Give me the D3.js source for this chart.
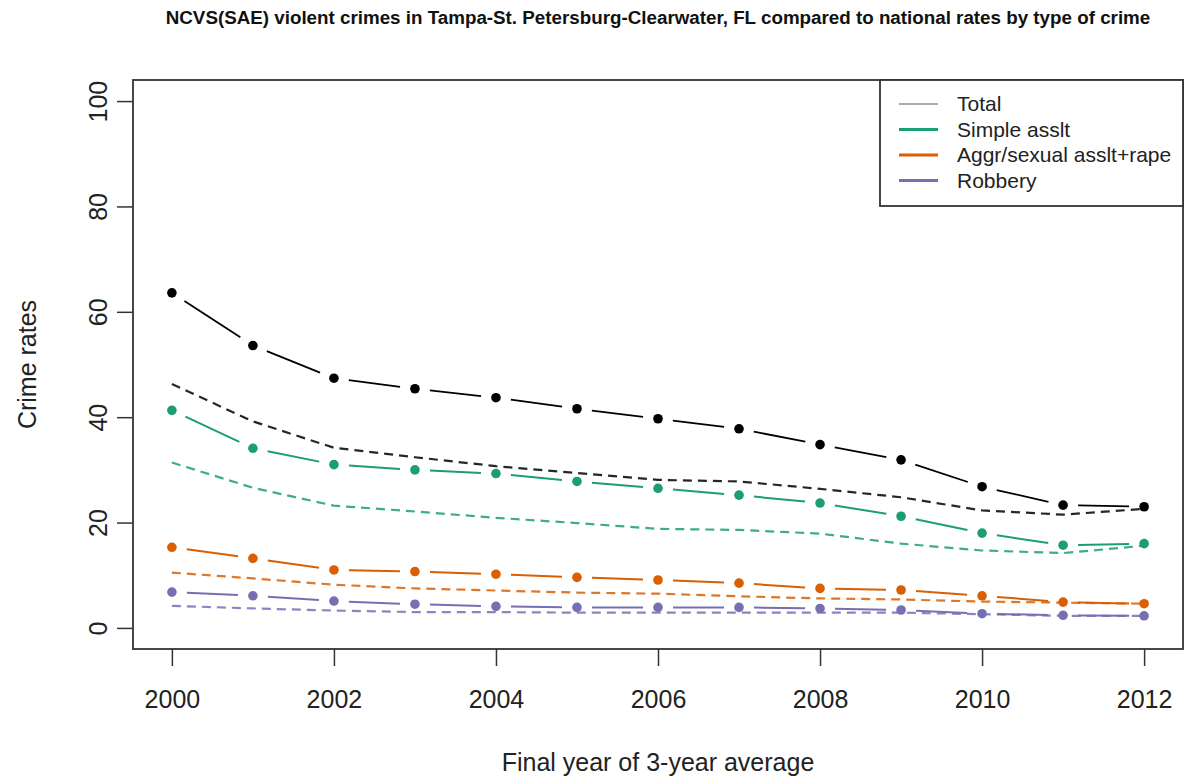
<!DOCTYPE html>
<html>
<head>
<meta charset="utf-8">
<script src="https://cdn.jsdelivr.net/npm/d3@7"></script>
<style>
  body { margin: 0; background: #fff; }
  svg { display: block; font-family: "Liberation Sans", Arial, Helvetica, sans-serif; }
</style>
</head>
<body>
<svg id="chart" width="1188" height="782"></svg>
<script>
// values (3-year averages, rate per 1000)
var years = [2000, 2001, 2002, 2003, 2004, 2005, 2006, 2007, 2008, 2009, 2010, 2011, 2012];
var xTicks = [2000, 2002, 2004, 2006, 2008, 2010, 2012];
var yTicks = [0, 20, 40, 60, 80, 100];

// Tampa-St. Petersburg-Clearwater (points + line)
var tampaTotal   = [63.6, 53.6, 47.4, 45.4, 43.7, 41.6, 39.7, 37.8, 34.8, 31.9, 26.8, 23.3, 23.0];
var tampaSimple  = [41.3, 34.1, 31.0, 30.0, 29.3, 27.8, 26.5, 25.2, 23.7, 21.2, 18.0, 15.7, 16.0];
var tampaAggr    = [15.3, 13.2, 11.0, 10.7, 10.2, 9.6, 9.1, 8.5, 7.5, 7.2, 6.1, 4.9, 4.6];
var tampaRobbery = [6.8, 6.1, 5.1, 4.5, 4.1, 3.9, 3.9, 3.9, 3.7, 3.4, 2.7, 2.4, 2.3];

// national rates (dashed)
var natTotal   = [46.3, 39.2, 34.2, 32.4, 30.7, 29.4, 28.1, 27.8, 26.4, 24.8, 22.3, 21.5, 22.6];
var natSimple  = [31.4, 26.6, 23.2, 22.1, 20.9, 19.9, 18.8, 18.6, 17.9, 16.0, 14.7, 14.2, 15.6];
var natAggr    = [10.5, 9.4, 8.2, 7.5, 7.1, 6.7, 6.5, 6.0, 5.6, 5.4, 5.0, 4.8, 4.6];
var natRobbery = [4.2, 3.7, 3.3, 3.0, 3.0, 2.9, 2.9, 2.9, 2.9, 2.9, 2.6, 2.3, 2.3];

var seriesNames  = ['Total', 'Simple asslt', 'Aggr/sexual asslt+rape', 'Robbery'];
var seriesColors = ['#000000', '#1b9e77', '#d95f02', '#7570b3'];

;(function (window, document, undefined) {

  'use strict';

  var svg = d3.select('#chart');
  var box = { left: 133, right: 1183, top: 80, bottom: 649 };

  // R style: axis range padded by 4% on each side
  var x = d3.scaleLinear().domain([1999.52, 2012.48]).range([box.left, box.right]);
  var y = d3.scaleLinear().domain([-4, 104]).range([box.bottom, box.top]);

  var tampa = [tampaTotal, tampaSimple, tampaAggr, tampaRobbery];
  var national = [natTotal, natSimple, natAggr, natRobbery];

  svg.append('text')
    .attr('x', (box.left + box.right) / 2)
    .attr('y', 24)
    .attr('text-anchor', 'middle')
    .style('font-weight', 'bold')
    .style('font-size', '18.8px')
    .attr('fill', '#111')
    .text('NCVS(SAE) violent crimes in Tampa-St. Petersburg-Clearwater, FL compared to national rates by type of crime');

  // x axis
  var xAxis = svg.append('g')
    .attr('transform', 'translate(0,' + box.bottom + ')')
    .call(d3.axisBottom(x).tickValues(xTicks).tickFormat(d3.format('d')).tickSize(17).tickPadding(24));
  xAxis.select('.domain').remove();
  xAxis.selectAll('line').attr('stroke', '#333').attr('stroke-width', 1.5);
  xAxis.selectAll('text')
    .attr('fill', '#222')
    .style('font-size', '25px')
    .style('font-family', '"Liberation Sans", Arial, sans-serif');

  // y axis, labels parallel to the axis
  var yAxis = svg.append('g')
    .attr('transform', 'translate(' + box.left + ',0)')
    .call(d3.axisLeft(y).tickValues(yTicks).tickSize(16));
  yAxis.select('.domain').remove();
  yAxis.selectAll('line').attr('stroke', '#333').attr('stroke-width', 1.5);
  yAxis.selectAll('text')
    .attr('x', null)
    .attr('dy', null)
    .attr('text-anchor', 'middle')
    .attr('transform', 'translate(-26,0) rotate(-90)')
    .attr('fill', '#222')
    .style('font-size', '25px')
    .style('font-family', '"Liberation Sans", Arial, sans-serif');

  svg.append('text')
    .attr('x', (box.left + box.right) / 2)
    .attr('y', 771)
    .attr('text-anchor', 'middle')
    .style('font-size', '25px')
    .attr('fill', '#222')
    .text('Final year of 3-year average');

  svg.append('text')
    .attr('transform', 'translate(36,' + ((box.top + box.bottom) / 2) + ') rotate(-90)')
    .attr('text-anchor', 'middle')
    .style('font-size', '25px')
    .attr('fill', '#222')
    .text('Crime rates');

  // national rates: dashed lines
  var line = d3.line()
    .x(function (d, i) { return x(years[i]); })
    .y(function (d) { return y(d); });

  svg.selectAll('path.national')
    .data(national)
    .enter().append('path')
    .attr('class', 'national')
    .attr('d', line)
    .attr('fill', 'none')
    .attr('stroke', function (d, i) { return seriesColors[i]; })
    .attr('stroke-width', 2.2)
    .attr('stroke-dasharray', '9,6')
    .attr('opacity', 0.85);

  // Tampa: type "b" — points with line pieces that stop short of each point
  var gap = 15;
  tampa.forEach(function (vals, s) {
    var g = svg.append('g');
    var segs = [];
    for (var i = 0; i < vals.length - 1; i++) {
      var x0 = x(years[i]), y0 = y(vals[i]);
      var x1 = x(years[i + 1]), y1 = y(vals[i + 1]);
      var len = Math.sqrt((x1 - x0) * (x1 - x0) + (y1 - y0) * (y1 - y0));
      var ux = (x1 - x0) / len, uy = (y1 - y0) / len;
      segs.push([x0 + ux * gap, y0 + uy * gap, x1 - ux * gap, y1 - uy * gap]);
    }
    g.selectAll('line')
      .data(segs)
      .enter().append('line')
      .attr('x1', function (d) { return d[0]; })
      .attr('y1', function (d) { return d[1]; })
      .attr('x2', function (d) { return d[2]; })
      .attr('y2', function (d) { return d[3]; })
      .attr('stroke', seriesColors[s])
      .attr('stroke-width', s === 0 ? 1.8 : 2);
    g.selectAll('circle')
      .data(vals)
      .enter().append('circle')
      .attr('cx', function (d, i) { return x(years[i]); })
      .attr('cy', function (d) { return y(d); })
      .attr('r', 4.8)
      .attr('fill', seriesColors[s]);
  });

  // plot frame
  svg.append('rect')
    .attr('x', box.left)
    .attr('y', box.top)
    .attr('width', box.right - box.left)
    .attr('height', box.bottom - box.top)
    .attr('fill', 'none')
    .attr('stroke', '#333')
    .attr('stroke-width', 1.8);

  // legend, top right corner of the frame
  var lg = svg.append('g');
  lg.append('rect')
    .attr('x', 880)
    .attr('y', box.top)
    .attr('width', box.right - 880)
    .attr('height', 126)
    .attr('fill', '#fff')
    .attr('stroke', '#333')
    .attr('stroke-width', 1.8);

  var rows = lg.selectAll('g.row')
    .data(seriesNames)
    .enter().append('g')
    .attr('class', 'row')
    .attr('transform', function (d, i) { return 'translate(0,' + (104 + i * 25.5) + ')'; });

  rows.append('line')
    .attr('x1', 899)
    .attr('x2', 938)
    .attr('stroke', function (d, i) { return i === 0 ? '#555' : seriesColors[i]; })
    .attr('stroke-width', function (d, i) { return i === 0 ? 1 : 3; });

  rows.append('text')
    .attr('x', 957)
    .attr('y', 7)
    .style('font-size', '21px')
    .attr('fill', '#222')
    .text(function (d) { return d; });

})(window, document);
</script>
</body>
</html>
